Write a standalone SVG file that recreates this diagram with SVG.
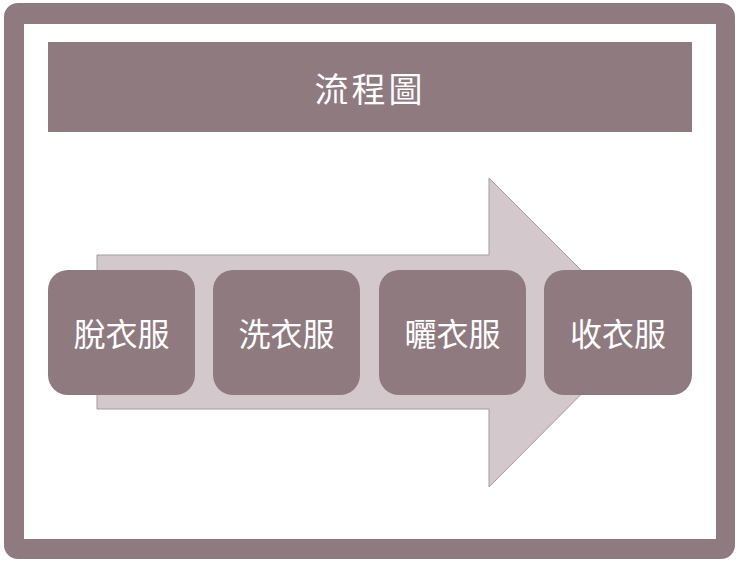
<svg xmlns="http://www.w3.org/2000/svg" width="740" height="562" viewBox="0 0 740 562">
<style>
.box{fill:#8f7a80}
.t{font-family:"Noto Sans CJK TC","Noto Sans CJK SC",sans-serif;fill:#fff;text-anchor:middle;dominant-baseline:central}
</style>
<rect width="740" height="562" fill="#fff"/>
<path fill="#8f7a80" fill-rule="evenodd" d="M18 3H721A14 14 0 0 1 735 17V545A14 14 0 0 1 721 559H18A14 14 0 0 1 4 545V17A14 14 0 0 1 18 3Z M24 24V539H716V24Z"/>
<g id="title"><rect class="box" x="48" y="42" width="644" height="90"/><text class="t" x="370" y="87" font-size="34" letter-spacing="3">流程圖</text></g>
<g id="connectors"><polygon points="97,255 489,255 489,178 643,332 489,487 489,409 97,409" fill="#d3c9cc" stroke="#a59aa0" stroke-width="1"/></g>
<g id="n1"><rect class="box" x="48" y="270" width="147" height="125" rx="20"/><text class="t" x="121.5" y="332" font-size="32">脫衣服</text></g>
<g id="n2"><rect class="box" x="213" y="270" width="147" height="125" rx="20"/><text class="t" x="286.5" y="332" font-size="32">洗衣服</text></g>
<g id="n3"><rect class="box" x="379" y="270" width="147" height="125" rx="20"/><text class="t" x="452.5" y="332" font-size="32">曬衣服</text></g>
<g id="n4"><rect class="box" x="544" y="270" width="148" height="125" rx="20"/><text class="t" x="618" y="332" font-size="32">收衣服</text></g>
</svg>
